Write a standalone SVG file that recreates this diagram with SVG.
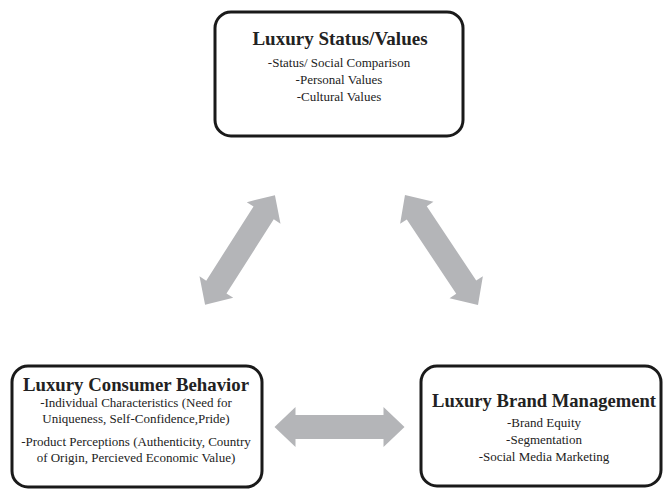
<svg xmlns="http://www.w3.org/2000/svg" width="665" height="489" viewBox="0 0 665 489">
<style>
.box{fill:#fff;stroke:#1a1a1a;stroke-width:3}
.t{font-family:"Liberation Serif",serif;font-weight:bold;font-size:19px;fill:#222;text-anchor:middle}
.b{font-family:"Liberation Serif",serif;font-size:13px;fill:#222;text-anchor:middle}
.arr{fill:#b4b5b8}
</style>
<defs>
<polygon id="dbl" points="-65,0 -44,-20 -44,-12 44,-12 44,-20 65,0 44,20 44,12 -44,12 -44,20"/>
</defs>
<rect width="665" height="489" fill="#fff"/>
<g id="connectors">
<use href="#dbl" class="arr" transform="translate(240,250) rotate(-57.5)"/>
<use href="#dbl" class="arr" transform="translate(441.5,250) rotate(56.4) scale(1.015,1)"/>
<use href="#dbl" class="arr" transform="translate(339.5,427)"/>
</g>
<g id="status">
<rect class="box" x="215" y="12" width="248" height="124" rx="16"/>
<text class="t" x="340" y="45">Luxury Status/Values</text>
<text class="b" x="339" y="67">-Status/ Social Comparison</text>
<text class="b" x="339" y="84">-Personal Values</text>
<text class="b" x="339" y="101">-Cultural Values</text>
</g>
<g id="consumer">
<rect class="box" x="12" y="366" width="250" height="121" rx="16"/>
<text class="t" x="136" y="391" textLength="226" lengthAdjust="spacingAndGlyphs">Luxury Consumer Behavior</text>
<text class="b" x="136" y="407">-Individual Characteristics (Need for</text>
<text class="b" x="136" y="423">Uniqueness, Self-Confidence,Pride)</text>
<text class="b" x="136" y="446">-Product Perceptions (Authenticity, Country</text>
<text class="b" x="136" y="462">of Origin, Percieved Economic Value)</text>
</g>
<g id="brand">
<rect class="box" x="421" y="366" width="240" height="120" rx="16"/>
<text class="t" x="544" y="407" textLength="224" lengthAdjust="spacingAndGlyphs">Luxury Brand Management</text>
<text class="b" x="544" y="427">-Brand Equity</text>
<text class="b" x="544" y="444">-Segmentation</text>
<text class="b" x="544" y="461">-Social Media Marketing</text>
</g>
</svg>
